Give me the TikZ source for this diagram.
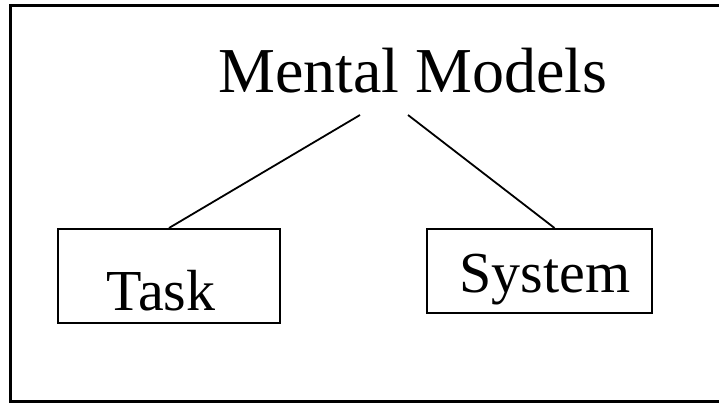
\documentclass[tikz,border=0pt]{standalone}
\usepackage{fontspec}
\setmainfont{Liberation Serif}
\begin{document}
\begin{tikzpicture}[x=1pt,y=-1pt,
  label/.style={inner sep=0pt,font=\fontsize{58}{58}\selectfont},
  itembox/.style={draw,line width=2pt,inner sep=0pt},
  link/.style={line width=1.8pt}]
\useasboundingbox (0,0) rectangle (719,402);
\begin{scope}
\clip (0,0) rectangle (719,402);
% outer frame, running off the right edge
\draw[line width=3pt] (10,5) rectangle (740,401);
\end{scope}
% title
\node[label,anchor=base,font=\fontsize{64}{64}\selectfont] (mm) at (413,92) {Mental Models};
% the two boxes
\node[itembox,minimum width=222pt,minimum height=94pt] (task) at (169,276) {};
\node[label,anchor=base] (tasktxt) at (161,310) {Task};
\node[itembox,minimum width=225pt,minimum height=84pt] (system) at (539.5,271) {};
\node[label,anchor=base] (systxt) at (545,292) {System};
% connectors
\coordinate (mmL) at (360,115);
\coordinate (mmR) at (408,115);
\draw[link] (mmL) -- (task.north);
\draw[link] (mmR) -- ([xshift=15pt]system.north);
\end{tikzpicture}
\end{document}
